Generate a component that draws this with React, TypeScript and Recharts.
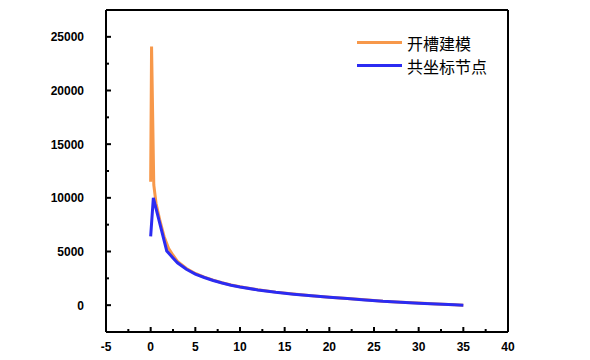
import React from "react";
import { LineChart, Line, XAxis, YAxis, ReferenceLine, Legend } from "recharts";

const orangeName = "开槽建模";
const blueName = "共坐标节点";

const orangeX = [0, 0.1, 0.35, 0.6, 1.0, 1.5, 2, 2.5, 3, 4, 5, 6, 7, 8, 9, 10, 12, 14, 16, 18, 20, 22, 24, 26, 28, 30, 32, 34, 35];
const orangeY = [11500, 24100, 11200, 9500, 8000, 6400, 5300, 4650, 4080, 3420, 2950, 2620, 2330, 2090, 1880, 1710, 1440, 1215, 1035, 880, 740, 615, 500, 365, 275, 195, 115, 40, 0];

const blueX = [0, 0.3, 1.8, 2.5, 3, 4, 5, 6, 7, 8, 9, 10, 12, 14, 16, 18, 20, 22, 24, 26, 28, 30, 32, 34, 35];
const blueY = [6400, 10000, 5050, 4400, 3950, 3350, 2900, 2580, 2300, 2060, 1860, 1690, 1420, 1200, 1020, 870, 730, 610, 490, 360, 270, 190, 110, 35, 0];

const xMajorTicks = [-5, 0, 5, 10, 15, 20, 25, 30, 35, 40];
const xMinorTicks = [-2.5, 2.5, 7.5, 12.5, 17.5, 22.5, 27.5, 32.5, 37.5];
const yMajorTicks = [0, 5000, 10000, 15000, 20000, 25000];
const yMinorTicks = [2500, 7500, 12500, 17500, 22500];

const xDomain = [-5, 40];
const yDomain = [-2500, 27500];

const orangeData = orangeX.map((x, i) => ({ x, y: orangeY[i] }));
const blueData = blueX.map((x, i) => ({ x, y: blueY[i] }));

const ORANGE = "#F7984A";
const BLUE = "#2B2BF2";
const FONT = "Arial, 'Liberation Sans', sans-serif";

const XTick = (props: any) => {
  const { x, y, payload } = props;
  const v = payload.value;
  const major = xMajorTicks.includes(v);
  return (
    <g>
      <line x1={x} x2={x} y1={y} y2={y - (major ? 5 : 3)} stroke="#000" strokeWidth={2} />
      {major && (
        <text x={x} y={y + 19} textAnchor="middle" fontFamily={FONT} fontWeight="bold" fontSize={12} fill="#000">
          {v}
        </text>
      )}
    </g>
  );
};

const YTick = (props: any) => {
  const { x, y, payload } = props;
  const v = payload.value;
  const major = yMajorTicks.includes(v);
  return (
    <g>
      <line x1={x} x2={x + (major ? 5 : 3)} y1={y} y2={y} stroke="#000" strokeWidth={2} />
      {major && (
        <text x={x - 22} y={y + 4.5} textAnchor="end" fontFamily={FONT} fontWeight="bold" fontSize={12} fill="#000">
          {v}
        </text>
      )}
    </g>
  );
};

const LegendContent = () => {
  const items = [
    { name: orangeName, color: ORANGE },
    { name: blueName, color: BLUE },
  ];
  return (
    <div>
      {items.map((it) => (
        <div key={it.name} style={{ display: "flex", alignItems: "center", height: 23 }}>
          <div style={{ width: 45, height: 3, background: it.color, marginRight: 5 }} />
          <span style={{ fontFamily: "'Noto Sans CJK SC', sans-serif", fontSize: 16, color: "#000", lineHeight: "20px" }}>
            {it.name}
          </span>
        </div>
      ))}
    </div>
  );
};

export default function App() {
  return (
    <div style={{ position: "absolute", left: 0, top: 0, background: "#fff" }}>
      <LineChart width={590} height={360} margin={{ top: 10, right: 82, bottom: 0, left: 0 }}>
        <XAxis
          type="number"
          dataKey="x"
          domain={xDomain}
          ticks={[...xMajorTicks, ...xMinorTicks].sort((a, b) => a - b)}
          interval={0}
          tickSize={0}
          tickMargin={0}
          tickLine={false}
          height={28}
          axisLine={{ stroke: "#000", strokeWidth: 2 }}
          tick={<XTick />}
          allowDataOverflow
        />
        <YAxis
          type="number"
          dataKey="y"
          domain={yDomain}
          ticks={[...yMajorTicks, ...yMinorTicks].sort((a, b) => a - b)}
          interval={0}
          tickSize={0}
          tickMargin={0}
          tickLine={false}
          width={106}
          axisLine={{ stroke: "#000", strokeWidth: 2 }}
          tick={<YTick />}
          allowDataOverflow
        />
        <ReferenceLine y={yDomain[1]} stroke="#000" strokeWidth={2} />
        <ReferenceLine x={xDomain[1]} stroke="#000" strokeWidth={2} />
        <Legend
          layout="horizontal"
          verticalAlign="middle"
          align="center"
          wrapperStyle={{ position: "absolute", top: 31, left: 357, width: 150 }}
          content={<LegendContent />}
        />
        <Line
          data={orangeData}
          dataKey="y"
          name={orangeName}
          stroke={ORANGE}
          strokeWidth={3}
          dot={false}
          isAnimationActive={false}
        />
        <Line
          data={blueData}
          dataKey="y"
          name={blueName}
          stroke={BLUE}
          strokeWidth={3}
          dot={false}
          isAnimationActive={false}
        />
      </LineChart>
    </div>
  );
}
